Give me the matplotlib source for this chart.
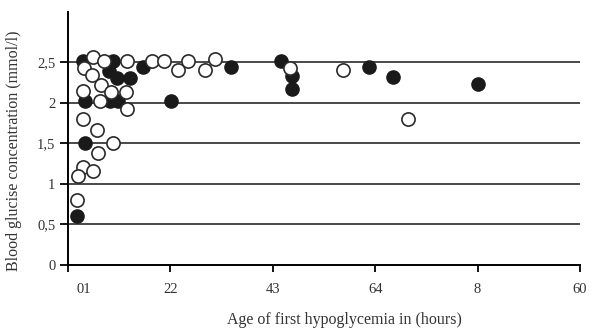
import matplotlib.pyplot as plt
from matplotlib.transforms import ScaledTranslation

# age of first hypoglycemia (hours) and blood glucose (mmol/l)
filled_age = [1.8, 5.3, 8.8, 19.1, 4.8, 5.7, 7.3, 2.0, 4.9, 5.9, 12.1, 2.0, 1.1,
              25.0, 26.3, 26.3, 35.3, 38.1, 48.1]
filled_glucose = [2.52, 2.52, 2.44, 2.44, 2.39, 2.30, 2.30, 2.02, 2.02, 2.02, 2.02, 1.50, 0.60,
                  2.52, 2.33, 2.17, 2.44, 2.32, 2.23]

open_age = [2.9, 4.2, 6.9, 9.9, 11.3, 12.9, 14.1, 16.1, 17.2, 1.9, 2.8, 3.9, 5.0, 6.8,
            1.8, 3.8, 6.9, 1.8, 3.4, 5.3, 3.5, 1.8, 2.9, 1.2, 1.1, 26.0, 32.2, 39.9]
open_glucose = [2.56, 2.52, 2.52, 2.52, 2.52, 2.41, 2.52, 2.41, 2.54, 2.43, 2.34, 2.22, 2.13, 2.13,
                2.14, 2.02, 1.92, 1.80, 1.67, 1.50, 1.38, 1.21, 1.16, 1.10, 0.80, 2.43, 2.41, 1.80]

x_ticks = [0, 12, 24, 36, 48, 60]
x_tick_labels = ['01', '22', '43', '64', '8', '60']
y_ticks = [0, 0.5, 1, 1.5, 2, 2.5]
y_tick_labels = ['0', '0,5', '1', '1,5', '2', '2,5']

plt.rcParams['font.family'] = ['Liberation Serif', 'DejaVu Serif']

fig = plt.figure(figsize=(5.98, 3.36), dpi=100)
ax = fig.add_axes([68 / 598, 71 / 336, 512 / 598, 253 / 336])

for y in y_ticks[1:]:
    ax.axhline(y, color='#3a3a3a', lw=1.3, zorder=1)

ax.plot(filled_age, filled_glucose, 'o', ms=9.5, mfc='#1a1a1a', mec='#1a1a1a',
        mew=1.0, zorder=3, clip_on=False)
ax.plot(open_age, open_glucose, 'o', ms=9.5, mfc='white', mec='#2a2a2a',
        mew=1.2, zorder=4, clip_on=False)

ax.set_xlim(0, 60)
ax.set_ylim(0, 3.12)
ax.spines['top'].set_visible(False)
ax.spines['right'].set_visible(False)
ax.spines['left'].set_linewidth(1.4)
ax.spines['bottom'].set_linewidth(1.4)

ax.set_xticks(x_ticks)
ax.set_xticklabels(x_tick_labels, fontsize=10.5, color='#333333')
ax.set_yticks(y_ticks)
ax.set_yticklabels(y_tick_labels, fontsize=10.5, color='#333333')
ax.tick_params(axis='x', length=5, width=1.3, pad=8)
ax.tick_params(axis='y', length=6, width=1.3, pad=3)
lbl = ax.get_xticklabels()[0]
lbl.set_transform(lbl.get_transform() + ScaledTranslation(0.16, 0, fig.dpi_scale_trans))

ax.set_xlabel('Age of first hypoglycemia in (hours)', fontsize=11.5, color='#333333')
ax.xaxis.set_label_coords(0.54, -0.185)
ax.set_ylabel('Blood glucise concentration (mmol/l)', fontsize=11.5, color='#333333')
ax.yaxis.set_label_coords(-0.09, 0.45)

fig.savefig('out.png', dpi=100)
